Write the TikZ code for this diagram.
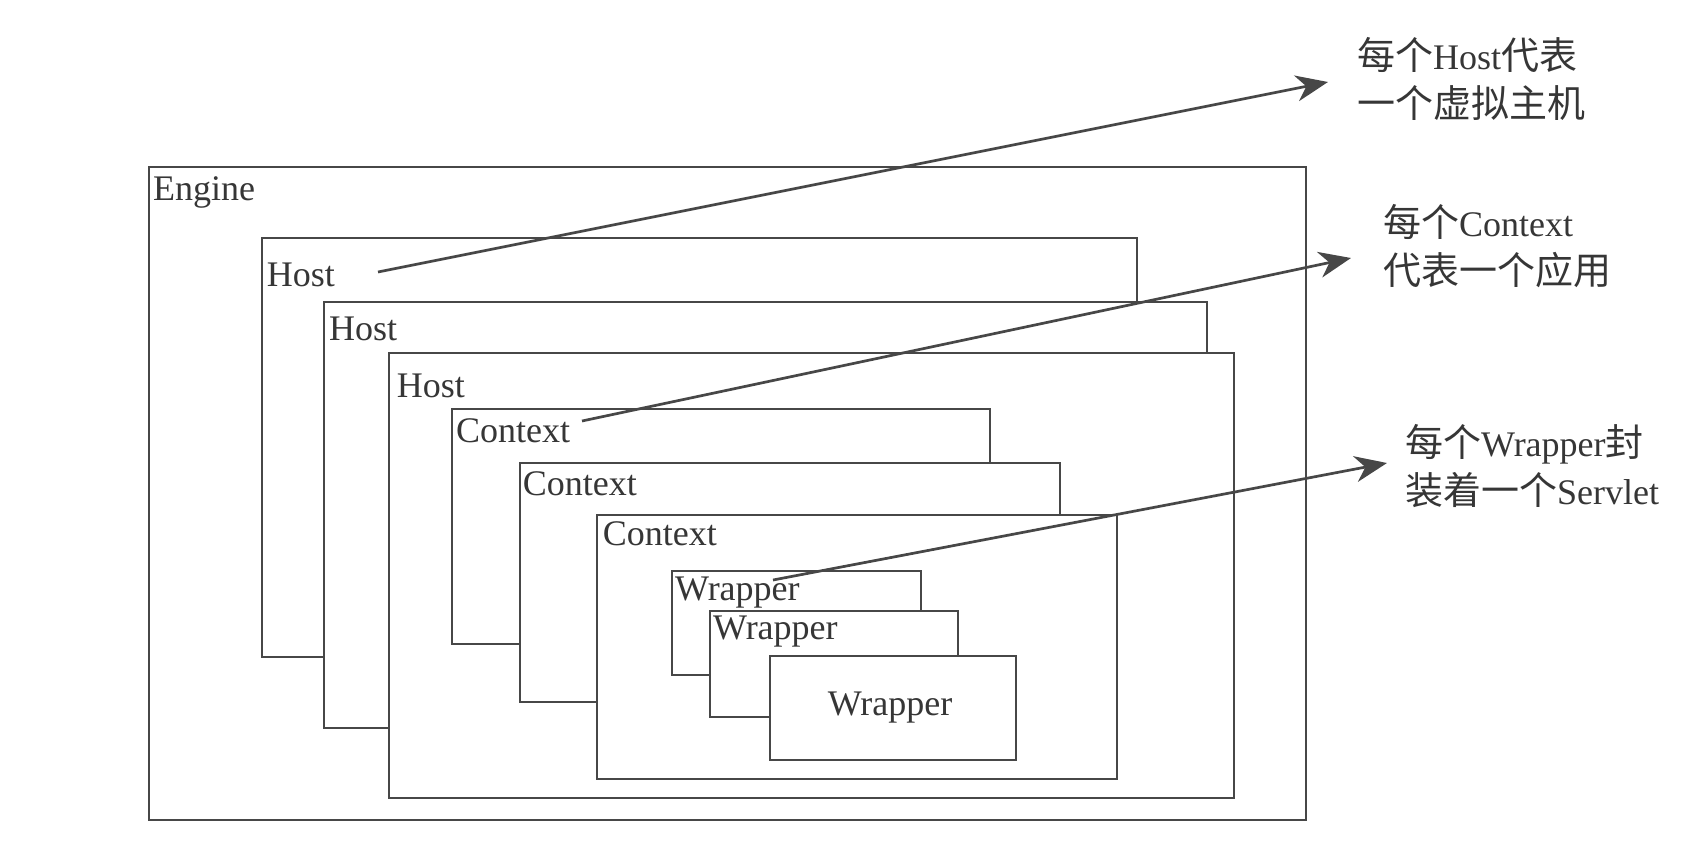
\documentclass[tikz,border=0pt]{standalone}
\usepackage{fontspec}
\setmainfont{Liberation Serif}
\newfontfamily\cjk{Noto Sans CJK SC}
\usetikzlibrary{arrows.meta}
\definecolor{ink}{HTML}{474747}
\definecolor{txt}{HTML}{363636}
\newcommand\latn[1]{{\fontsize{36}{48}\selectfont #1}}
\begin{document}
\begin{tikzpicture}[x=1pt,y=-1pt,
  box/.style={draw=ink, line width=2.7pt, fill=white, rectangle, inner sep=0pt, outer sep=0pt},
  lbl/.style={anchor=base west, inner sep=0pt, text=txt, font=\fontsize{36}{40}\selectfont},
  clbl/.style={inner sep=0pt, text=txt, font=\fontsize{36}{40}\selectfont},
  note/.style={anchor=west, inner sep=0pt, align=left, text=txt, font=\fontsize{38}{48}\selectfont},
  pointer/.style={draw=ink, line width=2.7pt, -{Stealth[length=32pt,width=26pt,inset=10pt]}}]
\useasboundingbox (0,0) rectangle (1690,862);
% boxes
\node[box, minimum width=1157pt, minimum height=653pt] (engine) at (727.5,493.5) {};
\node[box, minimum width=875pt, minimum height=419pt] (host1) at (699.5,447.5) {};
\node[box, minimum width=883pt, minimum height=426pt] (host2) at (765.5,515) {};
\node[box, minimum width=845pt, minimum height=445pt] (host3) at (811.5,575.5) {};
\node[box, minimum width=538pt, minimum height=235pt] (ctx1) at (721,526.5) {};
\node[box, minimum width=540pt, minimum height=239pt] (ctx2) at (790,582.5) {};
\node[box, minimum width=520pt, minimum height=264pt] (ctx3) at (857,647) {};
\node[box, minimum width=249pt, minimum height=104pt] (wr1) at (796.5,623) {};
\node[box, minimum width=248pt, minimum height=106pt] (wr2) at (834,664) {};
\node[box, minimum width=246pt, minimum height=104pt] (wr3) at (893,708) {};
% labels
\node[lbl] (lengine) at (153,200.7) {Engine};
\node[lbl] (lhost1) at (266.7,286.7) {Host};
\node[lbl] (lhost2) at (329,340.7) {Host};
\node[lbl] (lhost3) at (396.7,397.3) {Host};
\node[lbl] (lctx1) at (456,442.7) {Context};
\node[lbl] (lctx2) at (522.7,495.7) {Context};
\node[lbl] (lctx3) at (602.7,545.7) {Context};
\node[lbl] (lwr1) at (675,600) {Wrapper};
\node[lbl] (lwr2) at (713,639) {Wrapper};
\node[clbl] (lwr3) at ([xshift=-3pt]wr3.center) {Wrapper};
% notes
\node[note] (n1) at (1357,79) {{\cjk 每个}\latn{Host}{\cjk 代表}\\{\cjk 一个虚拟主机}};
\node[note] (n2) at (1383,246) {{\cjk 每个}\latn{Context}\\{\cjk 代表一个应用}};
\node[note] (n3) at (1405,466) {{\cjk 每个}\latn{Wrapper}{\cjk 封}\\{\cjk 装着一个}\latn{Servlet}};
% pointers
\coordinate (hs) at (378,272);
\coordinate (ht) at (1328,82);
\coordinate (cs) at (582,421);
\coordinate (ct) at (1351,258);
\coordinate (ws) at (773,580);
\coordinate (wt) at (1387,463);
\draw[pointer] (hs) -- (ht);
\draw[pointer] (cs) -- (ct);
\draw[pointer] (ws) -- (wt);
\end{tikzpicture}
\end{document}
